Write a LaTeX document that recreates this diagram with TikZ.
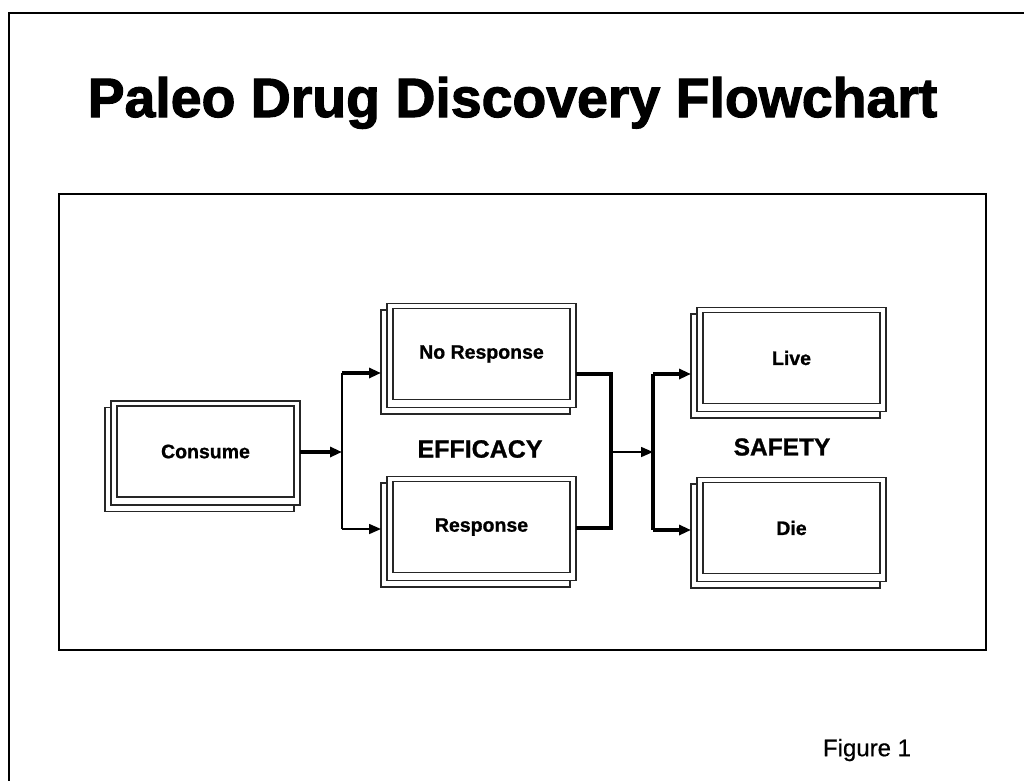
\documentclass[tikz,border=0pt]{standalone}
\usepackage{fontspec}
\setmainfont{Liberation Sans}
\newfontfamily\heavyfont[BoldFeatures={FakeBold=2}]{Liberation Sans}
\newfontfamily\medfont[BoldFeatures={FakeBold=1},UprightFeatures={FakeBold=0.5}]{Liberation Sans}
\usetikzlibrary{arrows.meta,calc}
\begin{document}
\begin{tikzpicture}[x=1pt,y=-1pt,
  frameline/.style={draw=black,line width=2pt},
  mainbox/.style={draw=black!85,line width=1.8pt,fill=white,minimum width=189pt,minimum height=104pt,inner sep=0pt,outer sep=0pt},
  backbox/.style={draw=black!85,line width=1.8pt,fill=white,minimum width=189pt,minimum height=104pt,inner sep=0pt,outer sep=0pt},
  innerbox/.style={draw=black!85,line width=1.8pt,minimum width=177pt,minimum height=91pt,inner sep=0pt,outer sep=0pt,font=\medfont\bfseries\fontsize{19.5}{22}\selectfont},
  thk/.style={line width=3.2pt},
  thn/.style={line width=1.6pt},
  tip/.style={-{Triangle[length=12pt,width=10pt]}},
  biglabel/.style={font=\medfont\bfseries\fontsize{25}{28}\selectfont}
]
\useasboundingbox (0,0) rectangle (1024,780);
\clip (0,0) rectangle (1024,780);
% outer frame (extends beyond the page on right and bottom)
\draw[frameline] (9,13) rectangle (1040,800);
% title
\node[font=\heavyfont\bfseries\fontsize{55.4}{60}\selectfont,anchor=base,inner sep=0pt] (title) at (512.5,117) {Paleo Drug Discovery Flowchart};
% inner frame
\draw[frameline] (59,194) rectangle (986,650);

% boxes: back, main, inner
\node[backbox] (conb) at (199.5,459.5) {};
\node[mainbox] (con) at (205.5,453) {};
\node[innerbox] (coni) at (205.5,451.5) {Consume};

\node[backbox] (nrb) at (475.5,362) {};
\node[mainbox] (nr) at (481.5,355.5) {};
\node[innerbox] (nri) at (481.5,354) {No Response};

\node[backbox] (rsb) at (475.5,535) {};
\node[mainbox] (rs) at (481.5,528.5) {};
\node[innerbox] (rsi) at (481.5,527) {Response};

\node[backbox] (lvb) at (785.5,366) {};
\node[mainbox] (lv) at (791.5,359.5) {};
\node[innerbox] (lvi) at (791.5,358) {Live};

\node[backbox] (dib) at (785.5,536) {};
\node[mainbox] (di) at (791.5,529.5) {};
\node[innerbox] (dii) at (791.5,528) {Die};

% labels
\node[biglabel] (eff) at (480,449) {EFFICACY};
\node[biglabel,font=\medfont\bfseries\fontsize{24.5}{28}\selectfont] (saf) at (782,447) {SAFETY};
\node[font=\medfont\fontsize{24}{26}\selectfont] (fig) at (867,750) {Figure 1};

% junction coordinates
\coordinate (s1) at (342,452);
\coordinate (t1) at (342,373);
\coordinate (b1) at (342,529);
\coordinate (m1) at (611,374);
\coordinate (m2) at (611,528);
\coordinate (m3) at (611,452);
\coordinate (s2) at (653,452);
\coordinate (t2) at (653,374);
\coordinate (b2) at (653,530);

% connectors
\draw[thk,tip] (con.east |- s1) -- (s1);
\draw[thn] (t1) -- (b1);
\draw[thk,tip] (t1) -- (t1 -| nrb.west);
\draw[thn,tip] (b1) -- (b1 -| rsb.west);
\draw[thk,line join=miter] (m1 -| nr.east) -- (m1) -- (m2) -- (m2 -| rs.east);
\draw[thn,tip] (m3) -- (s2);
\draw[thk] (t2) -- (b2);
\draw[thk,tip] (t2) -- (t2 -| lvb.west);
\draw[thk,tip] (b2) -- (b2 -| dib.west);
\end{tikzpicture}
\end{document}
